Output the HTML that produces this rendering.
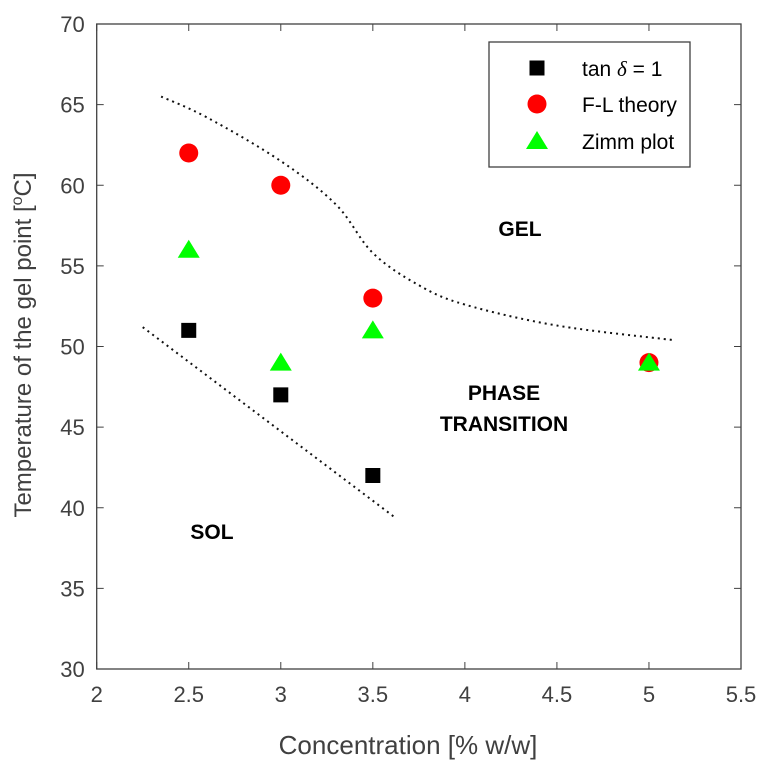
<!DOCTYPE html>
<html><head><meta charset="utf-8"><style>
body{margin:0;background:#fff}
svg{display:block;font-family:"Liberation Sans",sans-serif}
</style></head><body>
<svg id="chart" width="769" height="772"></svg>
<script>
const xTicks=[2,2.5,3,3.5,4,4.5,5,5.5];
const yTicks=[30,35,40,45,50,55,60,65,70];
const tanX=[2.5,3,3.5];
const tanY=[51,47,42];
const flX=[2.5,3,3.5,5];
const flY=[62,60,53,49];
const zimmX=[2.5,3,3.5,5];
const zimmY=[56,49,51,49];
const gelBoundX=[2.35,2.6,3,3.3,3.5,3.75,4,4.5,5.13];
const gelBoundY=[65.5,64.2,61.5,58.8,55.8,53.8,52.6,51.3,50.4];
const solBoundX=[2.25,3.62];
const solBoundY=[51.2,39.4];

const NS="http://www.w3.org/2000/svg";
const svg=document.getElementById('chart');
const L=96.7,R=741,T=24,B=669;
const sx=v=>L+(v-2)/(5.5-2)*(R-L);
const sy=v=>B-(v-30)/(70-30)*(B-T);
function mk(tag,attrs,parent){const e=document.createElementNS(NS,tag);for(const k in attrs)e.setAttribute(k,attrs[k]);(parent||svg).appendChild(e);return e;}
const ax='#404040';
const box=mk('rect',{x:L,y:T,width:R-L,height:B-T,fill:'none',stroke:ax,'stroke-width':1.3});


xTicks.forEach(v=>{
  mk('line',{x1:sx(v),x2:sx(v),y1:B,y2:B-7,stroke:ax});
  mk('line',{x1:sx(v),x2:sx(v),y1:T,y2:T+7,stroke:ax});
  const t=mk('text',{x:sx(v),y:B+33,'text-anchor':'middle','font-size':22,fill:ax});
  t.textContent=v;
  
  
});
yTicks.forEach(v=>{
  mk('line',{x1:L,x2:L+7,y1:sy(v),y2:sy(v),stroke:ax});
  mk('line',{x1:R,x2:R-7,y1:sy(v),y2:sy(v),stroke:ax});
  const t=mk('text',{x:L-12,y:sy(v)+8,'text-anchor':'end','font-size':22,fill:ax});
  t.textContent=v;
  
  
});
const xl=mk('text',{x:408,y:754,'text-anchor':'middle','font-size':26,fill:ax});
xl.textContent='Concentration [% w/w]';


const yl=mk('text',{x:0,y:0,'text-anchor':'middle','font-size':24,fill:ax,transform:`translate(31,345) rotate(-90)`});
yl.innerHTML='Temperature of the gel point [<tspan font-size="16" dy="-9">o</tspan><tspan dy="9">C]</tspan>';


function curve(xs,ys,name){
  const d=xs.map((x,i)=>(i?'L':'M')+sx(x)+','+sy(ys[i])).join(' ');
  const p=mk('path',{d:d,fill:'none',stroke:'#111','stroke-width':2,'stroke-dasharray':'2,4'});
  
  
}
function smooth(xs,ys,name){
  const P=xs.map((x,i)=>[sx(x),sy(ys[i])]);
  let d='M'+P[0];
  for(let i=0;i<P.length-1;i++){
    const p0=P[i-1]||P[i],p1=P[i],p2=P[i+1],p3=P[i+2]||p2;
    const c1=[p1[0]+(p2[0]-p0[0])/6,p1[1]+(p2[1]-p0[1])/6];
    const c2=[p2[0]-(p3[0]-p1[0])/6,p2[1]-(p3[1]-p1[1])/6];
    d+=' C'+c1+' '+c2+' '+p2;
  }
  const p=mk('path',{d:d,fill:'none',stroke:'#111','stroke-width':2,'stroke-dasharray':'2,4'});
  
  
}
smooth(gelBoundX,gelBoundY,'gel-boundary-curve');
curve(solBoundX,solBoundY,'sol-boundary-line');
function square(x,y){const e=mk('rect',{x:x-7.5,y:y-7.5,width:15,height:15,fill:'#000'});return e;}
function circle(x,y){return mk('circle',{cx:x,cy:y,r:9.5,fill:'#f00'});}
function tri(x,y){return mk('polygon',{points:`${x},${y-10} ${x+11},${y+8} ${x-11},${y+8}`,fill:'#0f0'});}
flX.forEach((x,i)=>{const e=circle(sx(x),sy(flY[i]));
  
  });
zimmX.forEach((x,i)=>{const e=tri(sx(x),sy(zimmY[i]));
  
  });
tanX.forEach((x,i)=>{const e=square(sx(x),sy(tanY[i]));
  
  });
function label(x,y,s,name){const t=mk('text',{x:x,y:y,'text-anchor':'middle','font-size':21,'font-weight':'bold',fill:'#000'});t.textContent=s;
  
  }
label(520,236,'GEL','gel-region-label');
label(504,400,'PHASE','phase-region-label');
label(504,431,'TRANSITION','transition-region-label');
label(212,539,'SOL','sol-region-label');
const lg=mk('g',{});


mk('rect',{x:489,y:42,width:201,height:125,fill:'#fff',stroke:ax,'stroke-width':1.3},lg);
square(537,68);circle(537,104);tri(537,141);
[['tan ','68'],['F-L theory','104'],['Zimm plot','141']].forEach((r,i)=>{
  const t=mk('text',{x:582,y:+r[1]+8,'font-size':21,fill:'#000'},lg);
  if(i===0)t.innerHTML='tan <tspan font-family="Liberation Serif" font-style="italic"> δ</tspan> = 1';
  else t.textContent=r[0];
  
  
});
</script>
</body></html>
